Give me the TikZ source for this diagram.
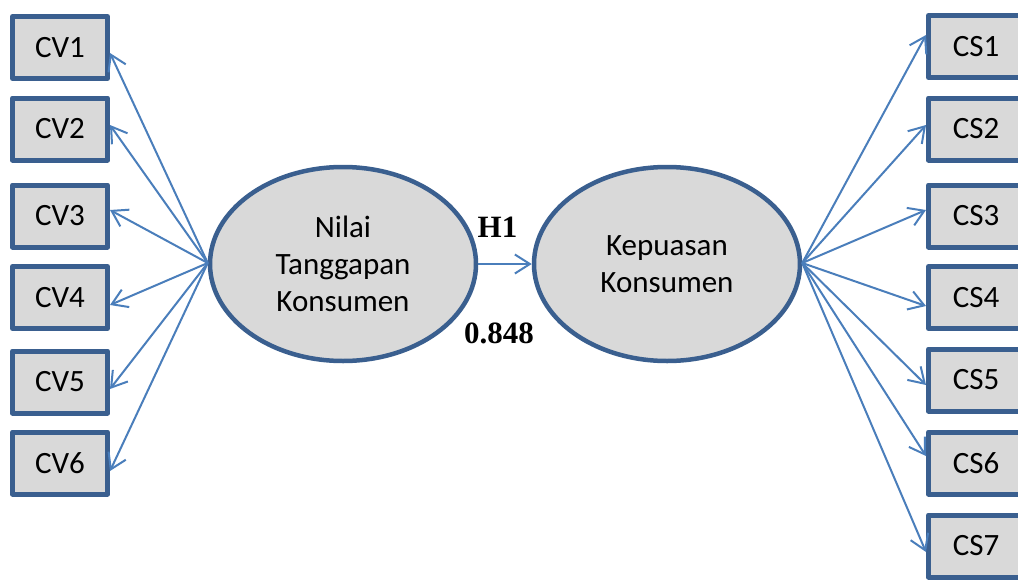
\documentclass[tikz,border=0pt]{standalone}
\usepackage{fontspec}
\setmainfont{Carlito}
\newfontfamily\labfont{Liberation Serif}
\usetikzlibrary{arrows.meta,shapes.geometric}
\definecolor{bordc}{HTML}{3A5F8F}
\definecolor{fillc}{HTML}{D9D9D9}
\definecolor{arrc}{HTML}{4A7EBB}
\tikzset{
  ind/.style={draw=bordc, fill=fillc, line width=5pt, minimum width=95pt, minimum height=62pt,
    inner sep=0pt, font=\fontsize{31}{36}\selectfont, line join=round},
  lat/.style={ellipse, draw=bordc, fill=fillc, line width=4.5pt, minimum width=266pt, minimum height=194pt,
    inner sep=0pt, align=center, font=\fontsize{31}{37}\selectfont},
  conn/.style={draw=arrc, line width=2pt, -{Straight Barb[length=15pt,width=19pt,line width=2pt]}},
  lab/.style={font=\labfont\bfseries\fontsize{31}{34}\selectfont, inner sep=0pt}
}
\begin{document}
\begin{tikzpicture}[x=1pt,y=-1pt]
\useasboundingbox (0,0) rectangle (1018,581);
\node[ind] (cv1) at (60,47.5) {CV1};
\node[ind] (cv2) at (60,129) {CV2};
\node[ind] (cv3) at (60,216) {CV3};
\node[ind] (cv4) at (60,297.5) {CV4};
\node[ind] (cv5) at (60,382) {CV5};
\node[ind] (cv6) at (60,463) {CV6};
\node[ind] (cs1) at (976,46.5) {CS1};
\node[ind] (cs2) at (976,129) {CS2};
\node[ind] (cs3) at (976,216) {CS3};
\node[ind] (cs4) at (976,297.5) {CS4};
\node[ind] (cs5) at (976,380) {CS5};
\node[ind] (cs6) at (976,463) {CS6};
\node[ind] (cs7) at (976,546) {CS7};
\node[lat] (nilai) at (343,264) {Nilai\\Tanggapan\\Konsumen};
\node[lat] (kep) at (667,264) {Kepuasan\\Konsumen};
\foreach \n/\d in {cv1/-5.5,cv2/4,cv3/6,cv4/-7.5,cv5/-7,cv6/-8}
  \draw[conn] ([yshift=1pt]nilai.west) -- ([yshift=\d pt]\n.east);
\foreach \n/\d in {cs1/11.5,cs2/4,cs3/6,cs4/-8.5,cs5/-5,cs6/7,cs7/-6}
  \draw[conn] ([yshift=1pt]kep.east) -- ([yshift=\d pt]\n.west);
\draw[conn] (nilai.east) -- (kep.west);
\node[lab] (h1) at (497.5,227) {H1};
\node[lab] (coef) at (499,333) {0.848};
\end{tikzpicture}
\end{document}
